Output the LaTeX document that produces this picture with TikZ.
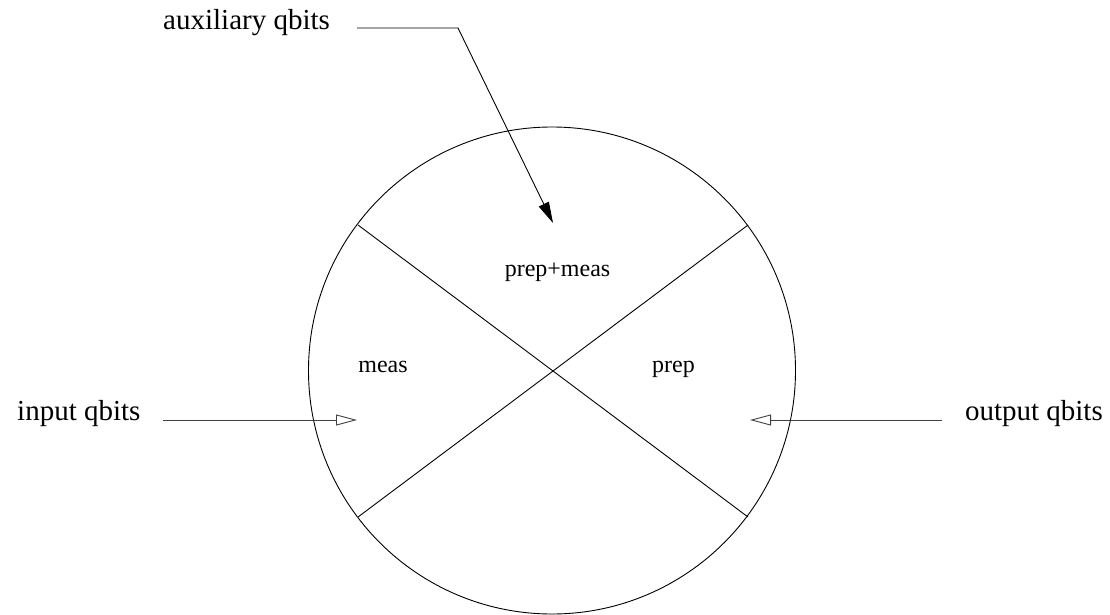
\documentclass[tikz,border=0pt]{standalone}
\usepackage{fontspec}
\setmainfont{Liberation Serif}
\usetikzlibrary{arrows.meta}
\begin{document}
\begin{tikzpicture}[x=1pt,y=-1pt,
  big/.style={font=\fontsize{29}{33}\selectfont, inner sep=0pt},
  small/.style={font=\fontsize{24}{28}\selectfont, inner sep=0pt},
  ln/.style={line width=0.9pt},
  openarr/.style={ln, draw=black!75, -{Triangle[open, length=21pt, width=11pt, line width=0.9pt]}},
  fillarr/.style={ln, -{Triangle[length=21pt, width=11pt]}}]
\useasboundingbox (0,0) rectangle (1110,615);
\node[circle, draw, ln, minimum size=487pt, inner sep=0pt] (C) at (552,370.5) {};
\coordinate (ul) at (358,225);
\coordinate (lr) at (748,517);
\coordinate (ur) at (748,225);
\coordinate (ll) at (358,517);
\draw[ln] (ul) -- (lr);
\draw[ln] (ur) -- (ll);
\node[small, anchor=base] (pm) at (557.5,276) {prep+meas};
\node[small, anchor=base] (meas) at (383,372) {meas};
\node[small, anchor=base west] (prep) at (652,372) {prep};
\node[big, anchor=base west] (aux) at (163,30) {auxiliary qbits};
\node[big, anchor=base west] (inp) at (17,420) {input qbits};
\node[big, anchor=base east] (out) at (1103,420) {output qbits};
\coordinate (a0) at (357,28);
\coordinate (a1) at (458,28);
\coordinate (a2) at (553,223);
\draw[fillarr] (a0) -- (a1) -- (a2);
\coordinate (i0) at (163,420);
\coordinate (i1) at (357,420);
\draw[openarr] (i0) -- (i1);
\coordinate (o0) at (942,420);
\coordinate (o1) at (750,420);
\draw[openarr] (o0) -- (o1);
\end{tikzpicture}
\end{document}
